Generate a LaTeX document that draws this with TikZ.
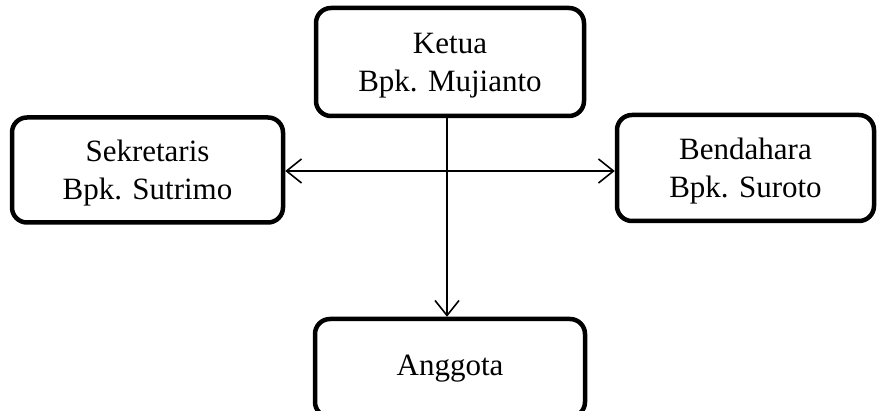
\documentclass[tikz,border=0pt]{standalone}
\usepackage{fontspec}
\setmainfont{Liberation Serif}
\usetikzlibrary{arrows.meta}
\begin{document}
\begin{tikzpicture}[x=1pt,y=-1pt,
  >={Straight Barb[length=15pt,width=24pt,line width=1.6pt]},
  box/.style={draw=black, line width=4.5pt, rounded corners=15pt, fill=white,
    align=center, inner sep=0pt, font=\fontsize{31}{38}\selectfont},
  two/.style={text depth=0pt},
  conn/.style={line width=1.6pt, ->},
  conn2/.style={line width=1.6pt, <->}]
\useasboundingbox (0,0) rectangle (879,411);
\clip (0,0) rectangle (879,411);
\node[box, two, minimum width=268pt, minimum height=108pt] (ketua) at (450,62) {Ketua\\Bpk. Mujianto};
\node[box, two, minimum width=271pt, minimum height=105pt] (sek) at (147.5,170) {Sekretaris\\Bpk. Sutrimo};
\node[box, two, minimum width=257pt, minimum height=106pt] (ben) at (745.5,168) {Bendahara\\Bpk. Suroto};
\node[box, minimum width=270pt, minimum height=98pt, text height=22pt, text depth=6pt] (ang) at (450,368) {Anggota};
\draw[conn] ([xshift=-3pt]ketua.south) -- ([xshift=-3pt]ang.north);
\draw[conn2] ([yshift=-1pt]sek.east) -- ([yshift=-1pt]sek.east -| ben.west);
\end{tikzpicture}
\end{document}
